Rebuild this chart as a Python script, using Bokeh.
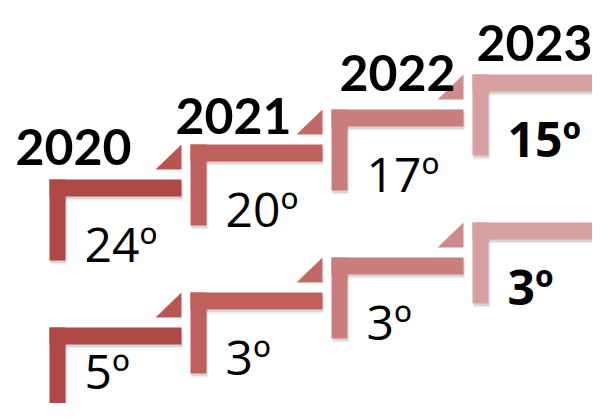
from bokeh.plotting import figure
from bokeh.models import Range1d, ColumnDataSource
from bokeh.core.properties import value
from bokeh.embed import file_html
from bokeh.resources import INLINE

# ---- data ----
years = ["2020", "2021", "2022", "2023"]
row1_values = [24, 20, 17, 15]
row2_values = [5, 3, 3, 3]

# ---- style / layout ----
step_colors = ["#AE4845", "#BF605D", "#C97D7D", "#D8A0A0"]
tri_colors = ["#B95451", "#C26865", "#CF8A8A"]
X0, DX = 57, 141          # step left edge and horizontal spacing (px)
TOP0, DY = 187, -35       # first step top and rise per step (px)
ROW_GAP = 148             # offset of second staircase
BAR_W, BAR_T = 132, 17    # horizontal bar length and thickness
VBAR_W, VBAR_H = 16, 81   # vertical bar width and height
year_pos = [(23, 154), (183, 123), (347, 80), (484, 50)]  # text left/baseline
YEAR_FONT = "Lato"
VAL_FONT = "Open Sans"
VAL_MID = 64              # label middle below step top
MAX_MID = 378             # keep value labels inside the page

W, H = 592, 403
p = figure(width=W, height=H, output_backend="svg", toolbar_location=None,
           x_range=Range1d(8, 8 + W), y_range=Range1d(8 + H, 8),
           min_border=0, outline_line_color=None)
p.axis.visible = False
p.grid.visible = False
p.background_fill_color = "white"
p.border_fill_color = "white"

n = len(years)
for r, vals in enumerate([row1_values, row2_values]):
    xs0 = [X0 + DX * i for i in range(n)]
    tops = [TOP0 + DY * i + ROW_GAP * r for i in range(n)]
    # shadows
    for off, a in [(4, 0.10), (2.5, 0.15)]:
        p.quad(left=[x + 1 for x in xs0], right=[x + BAR_W + 1 for x in xs0],
               top=[t + off for t in tops], bottom=[t + BAR_T + off for t in tops],
               fill_color="#555555", fill_alpha=a, line_color=None)
        p.quad(left=[x + 1 for x in xs0], right=[x + VBAR_W + 1 for x in xs0],
               top=[t + off for t in tops], bottom=[t + VBAR_H + off for t in tops],
               fill_color="#555555", fill_alpha=a, line_color=None)
    # horizontal bars
    p.quad(left=xs0, right=[x + BAR_W for x in xs0],
           top=tops, bottom=[t + BAR_T for t in tops],
           fill_color=step_colors, line_color=None)
    # vertical bars
    p.quad(left=xs0, right=[x + VBAR_W for x in xs0],
           top=tops, bottom=[t + VBAR_H for t in tops],
           fill_color=step_colors, line_color=None)
    # triangles (arrow heads) between steps
    txs, tys = [], []
    for i in range(n - 1):
        x, t = xs0[i], tops[i]
        txs.append([x + BAR_W - 26, x + BAR_W, x + BAR_W])
        tys.append([t - 10, t - 10, t - 35])
    p.patches(txs, tys, fill_color=tri_colors, line_color=None)
    # value labels
    labels = [f"{v}º" for v in vals]
    styles = ["normal"] * (n - 1) + ["bold"]
    src = ColumnDataSource(dict(x=[x + 35 for x in xs0],
                                y=[min(t + VAL_MID, MAX_MID) for t in tops],
                                text=labels, style=styles))
    p.text(x="x", y="y", text="text", source=src, text_font=value(VAL_FONT),
           text_font_size="48px", text_font_style="style",
           text_baseline="middle", text_align="left", text_color="black")

# year labels
ysrc = ColumnDataSource(dict(x=[a for a, b in year_pos], y=[b for a, b in year_pos],
                             text=years))
p.text(x="x", y="y", text="text", source=ysrc, text_font=value(YEAR_FONT),
       text_font_size="50px", text_font_style="bold",
       text_baseline="alphabetic", text_align="left", text_color="black")

open("out.html", "w").write(file_html(p, INLINE))
